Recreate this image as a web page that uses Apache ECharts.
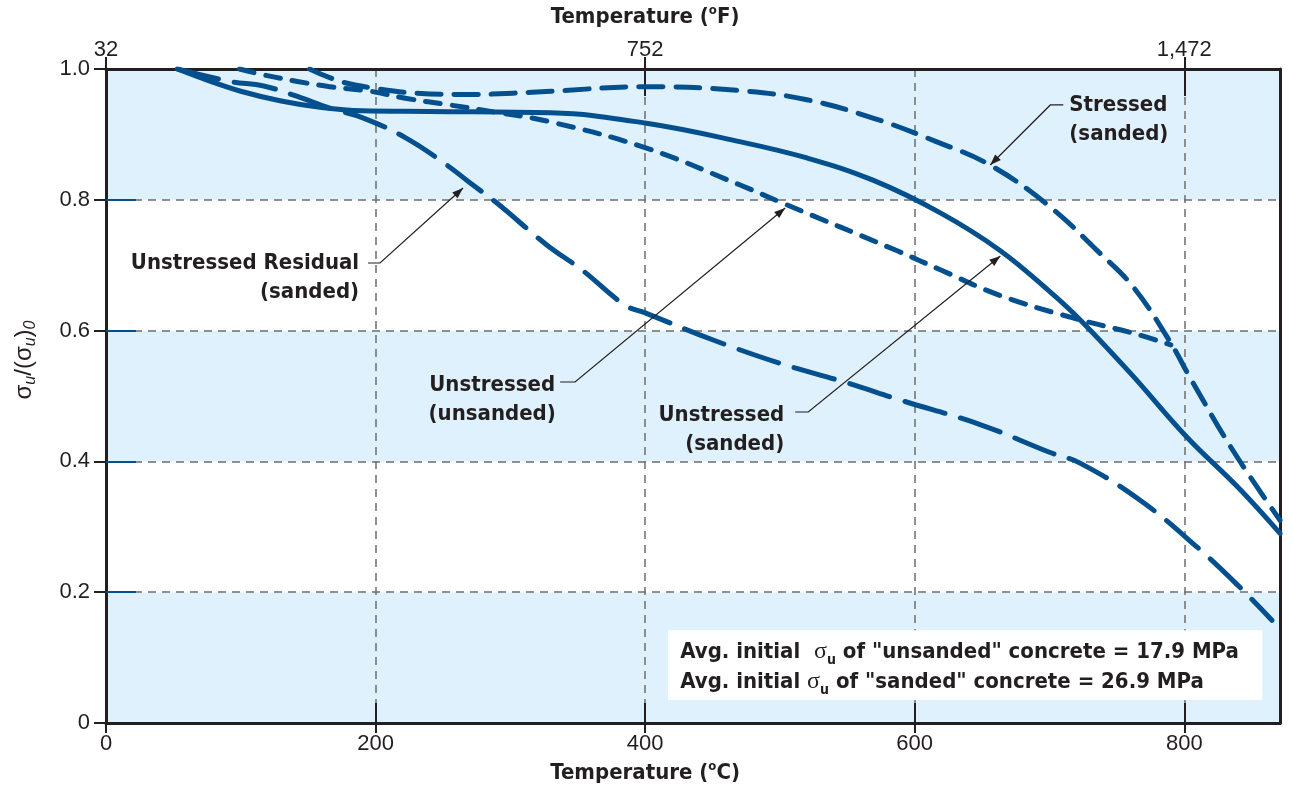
<!DOCTYPE html>
<html><head><meta charset="utf-8">
<script src="https://cdn.jsdelivr.net/npm/echarts@6/dist/echarts.min.js"></script>
<style>html,body{margin:0;padding:0;background:#fff}#c{width:1294px;height:788px}</style>
</head><body><div id="c"></div>
<script>
// ---------- data ----------
const xTickLabels = ['0', '200', '400', '600', '800'];
const fTickLabels = ['32', '752', '1,472'];
const yTickLabels = ['0', '0.2', '0.4', '0.6', '0.8', '1.0'];

// Stressed (sanded) - long dashes
const tempStressed = [151, 174, 201, 231, 270, 302, 330, 401, 470, 520, 569, 616, 656, 700, 735, 762, 790, 804, 836, 871];
const stressed     = [1.0, 0.981, 0.970, 0.963, 0.961, 0.963, 0.966, 0.973, 0.967, 0.953, 0.925, 0.889, 0.853, 0.79, 0.723, 0.667, 0.581, 0.529, 0.417, 0.31];

// Unstressed (sanded) - solid
const tempSanded = [53, 75, 100, 130, 160, 190, 240, 330, 401, 470, 520, 569, 619, 663, 700, 723, 760, 802, 840, 871];
const sanded     = [1.0, 0.983, 0.966, 0.951, 0.941, 0.936, 0.935, 0.933, 0.917, 0.889, 0.864, 0.830, 0.780, 0.723, 0.66, 0.616, 0.535, 0.437, 0.36, 0.29];

// Unstressed (unsanded) - short dashes
const tempUnsanded = [99, 117, 142, 166, 196, 223, 255, 280, 330, 401, 470, 502, 587, 619, 663, 718, 762, 790];
const unsanded     = [1.0, 0.991, 0.981, 0.973, 0.966, 0.955, 0.945, 0.937, 0.919, 0.879, 0.823, 0.795, 0.722, 0.693, 0.654, 0.619, 0.596, 0.578];

// Unstressed Residual (sanded) - long broken dashes
const tempResidual = [53, 92, 117, 142, 166, 191, 223, 253, 270, 290, 327, 353, 385, 400, 450, 500, 550, 589, 649, 700, 723, 767, 810, 840, 865];
const residual     = [1.0, 0.981, 0.974, 0.958, 0.940, 0.925, 0.894, 0.853, 0.826, 0.795, 0.731, 0.693, 0.639, 0.627, 0.586, 0.55, 0.52, 0.494, 0.456, 0.414, 0.397, 0.341, 0.268, 0.21, 0.157];

// annotations (anchors in data coordinates)
const annotations = [
  {lines: ['Unstressed Residual', '(sanded)'], at: [187.8, 0.7034], align: 'right',
   path: [[194.4, 0.7034], [203.3, 0.7034], [264.9, 0.818]]},
  {lines: ['Unstressed', '(unsanded)'], at: [286.5, 0.5168], align: 'center',
   path: [[336.9, 0.5214], [348.0, 0.5214], [503.9, 0.7875]]},
  {lines: ['Unstressed', '(sanded)'], at: [503.2, 0.471], align: 'right',
   path: [[511.3, 0.4755], [521.0, 0.4755], [663.5, 0.7141]]},
  {lines: ['Stressed', '(sanded)'], at: [714.7, 0.945], align: 'left',
   path: [[710.2, 0.945], [700.6, 0.945], [656.0, 0.8532]]}
];
const noteBox = {from: [417, 0.142], to: [857.9, 0.035], textAt: [426, 0.1086], lineGap: 30};

// ---------- style ----------
const BLUE = '#04508f', INK = '#231f20', GRID = '#6e6e6e';
const COND = "'Liberation Sans Narrow','DejaVu Sans Condensed',Roboto,sans-serif";
const SANS = "'Liberation Sans',Arial,Helvetica,sans-serif";

const chart = echarts.init(document.getElementById('c'));
const pairs = (xs, ys) => xs.map((x, i) => [x, ys[i]]);

function lineSeries(name, xs, ys, dash) {
  return {
    type: 'line', name, data: pairs(xs, ys), smooth: 0.4,
    showSymbol: false, symbol: 'none', silent: true, z: 5,
    lineStyle: {color: BLUE, width: 5, type: dash || 'solid', cap: 'round', join: 'round'}
  };
}

const XMAX = 871;
const tickFont = {fontSize: 22, color: INK, fontFamily: SANS};
chart.setOption({
  animation: false,
  grid: {left: 106, right: 14, top: 69, bottom: 65, containLabel: false},
  xAxis: [
    {type: 'value', min: 0, max: XMAX, interval: 200, position: 'bottom',
     axisLine: {onZero: false, lineStyle: {color: INK, width: 3}},
     axisTick: {length: 10, lineStyle: {color: INK, width: 2}},
     axisLabel: Object.assign({showMaxLabel: false, margin: 10,
       formatter: v => xTickLabels[Math.round(v / 200)] || ''}, tickFont),
     splitLine: {show: true, lineStyle: {type: [8, 6], color: GRID, width: 1.5}}},
    {type: 'value', min: 0, max: XMAX, interval: 200, position: 'bottom',
     axisLine: {show: false, onZero: false}, axisLabel: {show: false}, splitLine: {show: false},
     axisTick: {inside: true, length: 20, lineStyle: {color: INK, width: 2}}},
    {type: 'value', min: 0, max: XMAX, interval: 400, position: 'top',
     axisLine: {onZero: false, lineStyle: {color: INK, width: 3}},
     axisTick: {length: 12, lineStyle: {color: INK, width: 2}},
     axisLabel: Object.assign({showMaxLabel: false, margin: 8,
       formatter: v => fTickLabels[Math.round(v / 400)] || ''}, tickFont),
     splitLine: {show: false}},
    {type: 'value', min: 0, max: XMAX, interval: 400, position: 'top',
     axisLine: {show: false, onZero: false}, axisLabel: {show: false}, splitLine: {show: false},
     axisTick: {inside: true, length: 27, lineStyle: {color: INK, width: 2}}}
  ],
  yAxis: [
    {type: 'value', min: 0, max: 1, interval: 0.2, position: 'left',
     axisLine: {show: true, onZero: false, lineStyle: {color: INK, width: 3}},
     axisTick: {show: true, length: 12, lineStyle: {color: INK, width: 2}},
     axisLabel: Object.assign({margin: 16,
       formatter: v => yTickLabels[Math.round(v / 0.2)] || ''}, tickFont),
     splitLine: {show: true, lineStyle: {type: [8, 6], color: GRID, width: 1.5}},
     splitArea: {show: true, areaStyle: {color: ['#dff1fc', '#ffffff']}}},
    {type: 'value', min: 0, max: 1, interval: 0.2, position: 'right',
     axisLine: {show: true, onZero: false, lineStyle: {color: INK, width: 3}},
     axisTick: {show: false}, axisLabel: {show: false}, splitLine: {show: false}},
    {type: 'value', min: 0, max: 1, interval: 0.2, position: 'left',
     axisLine: {show: false, onZero: false}, axisLabel: {show: false}, splitLine: {show: false},
     axisTick: {show: true, inside: true, length: 30, customValues: [0.2, 0.4, 0.6, 0.8],
       lineStyle: {color: BLUE, width: 2}}}
  ],
  series: [
    lineSeries('Unstressed Residual (sanded)', tempResidual, residual, [42, 16]),
    lineSeries('Unstressed (unsanded)', tempUnsanded, unsanded, [15, 12]),
    lineSeries('Unstressed (sanded)', tempSanded, sanded, 'solid'),
    lineSeries('Stressed (sanded)', tempStressed, stressed, [24, 13])
  ]
});

// ---------- annotations ----------
const P = (x, y) => chart.convertToPixel({xAxisIndex: 0, yAxisIndex: 0}, [x, y]);
const graphics = [];
const labelFont = {fontFamily: COND, fontWeight: 'bold', fontSize: 22, fill: INK};

annotations.forEach(a => {
  const p = P(a.at[0], a.at[1]);
  a.lines.forEach((t, i) => {
    graphics.push({type: 'text', z: 20, x: p[0], y: p[1] + i * 29,
      style: Object.assign({text: t, align: a.align, verticalAlign: 'middle'}, labelFont)});
  });
  const pts = a.path.map(q => P(q[0], q[1]));
  graphics.push({type: 'polyline', z: 20, shape: {points: pts},
    style: {stroke: INK, lineWidth: 1.2, fill: null}});
  const tip = pts[pts.length - 1], prev = pts[pts.length - 2];
  const dx = tip[0] - prev[0], dy = tip[1] - prev[1], L = Math.hypot(dx, dy);
  const ux = dx / L, uy = dy / L, len = 11, hw = 4;
  const bx = tip[0] - ux * len, by = tip[1] - uy * len;
  graphics.push({type: 'polygon', z: 21, shape: {points: [tip, [bx - uy * hw, by + ux * hw], [bx + uy * hw, by - ux * hw]]},
    style: {fill: INK}});
});

// note box
const b0 = P(noteBox.from[0], noteBox.from[1]), b1 = P(noteBox.to[0], noteBox.to[1]);
graphics.push({type: 'rect', z: 20, shape: {x: b0[0], y: b0[1], width: b1[0] - b0[0], height: b1[1] - b0[1]},
  style: {fill: '#ffffff'}});
const noteRich = {
  sig: {fontFamily: "'Liberation Serif','DejaVu Serif',serif", fontWeight: 'normal', fontSize: 24, lineHeight: 30, verticalAlign: 'middle', fill: INK},
  sub: {fontFamily: COND, fontWeight: 'bold', fontSize: 14, lineHeight: 12, verticalAlign: 'bottom', fill: INK},
  b: {fontFamily: COND, fontWeight: 'bold', fontSize: 22, lineHeight: 30, verticalAlign: 'middle', fill: INK}
};
const noteLines = [
  '{b|Avg. initial  }{sig|σ}{sub|u}{b| of "unsanded" concrete = 17.9 MPa}',
  '{b|Avg. initial }{sig|σ}{sub|u}{b| of "sanded" concrete = 26.9 MPa}'
];
const tp = P(noteBox.textAt[0], noteBox.textAt[1]);
noteLines.forEach((t, i) => {
  graphics.push({type: 'text', z: 22, x: tp[0], y: tp[1] + i * noteBox.lineGap,
    style: {text: t, rich: noteRich, align: 'left', verticalAlign: 'middle', fill: INK}});
});

// axis titles
const titleRich = {
  b: {fontFamily: COND, fontWeight: 'bold', fontSize: 22, lineHeight: 26, verticalAlign: 'middle', fill: INK},
  sup: {fontFamily: COND, fontWeight: 'bold', fontSize: 13, lineHeight: 13, verticalAlign: 'top', fill: INK}
};
const cx = P(400, 0)[0];
graphics.push({type: 'text', z: 20, x: cx, y: 773,
  style: {text: '{b|Temperature (}{sup|o}{b|C)}', rich: titleRich, align: 'center', verticalAlign: 'middle'}});
graphics.push({type: 'text', z: 20, x: cx, y: 17,
  style: {text: '{b|Temperature (}{sup|o}{b|F)}', rich: titleRich, align: 'center', verticalAlign: 'middle'}});

const yRich = {
  s: {fontFamily: SANS, fontSize: 24, lineHeight: 30, verticalAlign: 'middle', fill: INK},
  i: {fontFamily: SANS, fontStyle: 'italic', fontSize: 16, lineHeight: 14, verticalAlign: 'bottom', fill: INK}
};
graphics.push({type: 'text', z: 20, x: 24, y: 360, rotation: Math.PI / 2,
  style: {text: '{s|σ}{i|u}{s|/(σ}{i|u}{s|)}{i|0}', rich: yRich, align: 'center', verticalAlign: 'middle'}});

chart.setOption({graphic: graphics});
</script>
</body></html>
